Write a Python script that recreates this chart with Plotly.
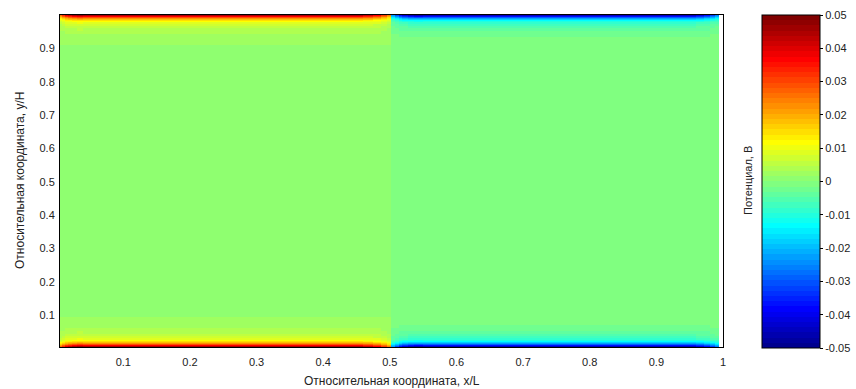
import plotly.graph_objects as go

# ---- data ----
# column edges (relative x/L) and the corner attenuation of the wall layer per column
x_edges = [0.002, 0.008, 0.012, 0.017, 0.023, 0.030, 0.040, 0.460, 0.475, 0.487, 0.495, 0.501,
           0.508, 0.513, 0.519, 0.527, 0.537, 0.550, 0.960, 0.972, 0.981, 0.988, 0.994, 1.004]
col_taper = [0.55, 0.70, 0.82, 0.90, 0.96, 1.00, 0.96, 0.90, 0.80, 0.65, 0.50,
             0.50, 0.65, 0.80, 0.90, 0.96, 1.00, 0.96, 0.90, 0.80, 0.68, 0.55]
col_side = [1] * 11 + [-1] * 11   # +1 left electrode half, -1 right half

# wall boundary layer: distance from wall (y/H) of layer edges and potentials (V)
layer_edges = [-0.003, 0.003, 0.006, 0.009, 0.012, 0.015, 0.018, 0.022, 0.027, 0.033,
               0.040, 0.048, 0.057, 0.067, 0.078, 0.090]
layer_left = [0.046, 0.038, 0.030, 0.024, 0.019, 0.015, 0.012, 0.0095, 0.0075, 0.006,
              0.0048, 0.0038, 0.0030, 0.0024, 0.0020]
layer_right = [-0.046, -0.038, -0.030, -0.023, -0.018, -0.014, -0.011, -0.0085, -0.0065,
               -0.005, -0.0038, -0.0028, -0.0020, -0.0014, -0.0010]
interior_left = 0.0012
interior_right = -0.0005

x_min, x_max = 0.005, 1.0
y_bottom = 0.005
y_top = 1.0
cbar_ticks = [-0.05, -0.04, -0.03, -0.02, -0.01, 0, 0.01, 0.02, 0.03, 0.04, 0.05]
cbar_labels = ["-0.05", "-0.04", "-0.03", "-0.02", "-0.01", "0", "0.01", "0.02", "0.03", "0.04", "0.05"]
x_ticks = [0.1, 0.2, 0.3, 0.4, 0.5, 0.6, 0.7, 0.8, 0.9, 1.0]
x_ticklabels = ["0.1", "0.2", "0.3", "0.4", "0.5", "0.6", "0.7", "0.8", "0.9", "1"]
y_ticks = [0.1, 0.2, 0.3, 0.4, 0.5, 0.6, 0.7, 0.8, 0.9]

# ---- build table ----
y_edges = [y_bottom + e for e in layer_edges] + [y_top - e for e in reversed(layer_edges)]
n_layers = len(layer_left)
row_layer = list(range(n_layers)) + [None] + list(reversed(range(n_layers)))

z = []
for li in row_layer:
    row = []
    for side, tp in zip(col_side, col_taper):
        base = interior_left if side > 0 else interior_right
        if li is None:
            row.append(base)
        else:
            wall = layer_left[li] if side > 0 else layer_right[li]
            row.append(base + (wall - base) * tp)
    z.append(row)

# MATLAB jet(64), discrete
def jet(t):
    c = lambda v: max(0.0, min(1.0, v))
    r = c(1.5 - abs(4 * t - 3)); g = c(1.5 - abs(4 * t - 2)); b = c(1.5 - abs(4 * t - 1))
    return "rgb(%d,%d,%d)" % (round(r * 255), round(g * 255), round(b * 255))

N = 64
colorscale = []
for k in range(N):
    col = jet((k + 1) / N)
    colorscale.append([k / N, col])
    colorscale.append([(k + 1) / N, col])

L, R, T, B = 60, 133, 15, 42
W, H = 856, 389
pw = W - L - R
ph = H - T - B

fig = go.Figure(go.Heatmap(
    x=x_edges, y=y_edges, z=z, zmin=-0.05, zmax=0.05, zsmooth=False,
    colorscale=colorscale,
    colorbar=dict(
        x=(762 - L) / pw, xanchor="left", xpad=0,
        y=1, yanchor="top", ypad=0,
        len=333, lenmode="pixels", thickness=58, thicknessmode="pixels",
        outlinecolor="black", outlinewidth=1,
        tickvals=cbar_ticks, ticktext=cbar_labels,
        ticks="outside", ticklen=3, tickcolor="black",
        tickfont=dict(family="Liberation Sans, Arial", size=11, color="#222"),
    ),
))

font = dict(family="Liberation Sans, Arial", size=11, color="#222")
fig.update_layout(
    width=W, height=H,
    margin=dict(l=L, r=R, t=T, b=B, pad=0, autoexpand=False),
    paper_bgcolor="white", plot_bgcolor="white",
    font=font,
    xaxis=dict(range=[x_min, x_max], tickvals=x_ticks, ticktext=x_ticklabels,
               showline=True, mirror=True, linecolor="black", linewidth=1,
               showgrid=False, zeroline=False, ticks="", tickfont=font, ticklabelstandoff=5),
    yaxis=dict(range=[y_bottom, y_top], tickvals=y_ticks,
               showline=True, mirror=True, linecolor="black", linewidth=1,
               showgrid=False, zeroline=False, ticks="", tickfont=font, ticklabelstandoff=2),
    annotations=[
        dict(text="Относительная координата, x/L", xref="paper", yref="paper",
             x=0.5, y=-(381 - (T + ph)) / ph, xanchor="center", yanchor="middle",
             showarrow=False, font=dict(family="Liberation Sans, Arial", size=12, color="#222")),
        dict(text="Относительная координата, y/H", xref="paper", yref="paper",
             x=(20 - L) / pw, y=0.5, xanchor="center", yanchor="middle", textangle=-90,
             showarrow=False, font=dict(family="Liberation Sans, Arial", size=12, color="#222")),
        dict(text="Потенциал, В", xref="paper", yref="paper",
             x=(748 - L) / pw, y=0.5, xanchor="center", yanchor="middle", textangle=-90,
             showarrow=False, font=dict(family="Liberation Sans, Arial", size=11, color="#222")),
    ],
)

fig.write_html("out.html")
